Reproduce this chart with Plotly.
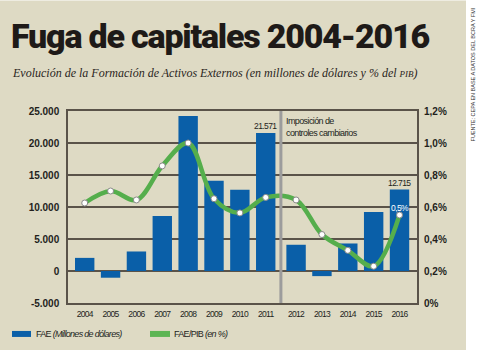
import plotly.graph_objects as go

# ---------------- data ----------------
years = ["2004", "2005", "2006", "2007", "2008", "2009", "2010", "2011",
         "2012", "2013", "2014", "2015", "2016"]
fae_musd = [2050, -1050, 3050, 8600, 24200, 14100, 12700, 21571,
            4100, -800, 4300, 9200, 12715]
fae_pib_pct = [0.625, 0.70, 0.644, 0.857, 1.00, 0.652, 0.563, 0.66,
               0.644, 0.428, 0.329, 0.23, 0.55]

left_tickvals = [-5000, 0, 5000, 10000, 15000, 20000, 25000]
left_ticktext = ["-5.000", "0", "5.000", "10.000", "15.000", "20.000", "25.000"]
right_tickvals = [0, 0.2, 0.4, 0.6, 0.8, 1.0, 1.2]
right_ticktext = ["0%", "0,2%", "0,4%", "0,6%", "0,8%", "1,0%", "1,2%"]

label_2011 = "21.571"
label_2016 = "12.715"
label_2016_pct = "0,5%"

# ---------------- layout helpers ----------------
W, H = 480, 350
L, R, T, B = 68, 63, 110.7, 47
PW, PH = W - L - R, H - T - B
GAP = 0.174  # extra space after 2011 (controls separator)
xpos = [i + (GAP if int(y) >= 2012 else 0) for i, y in enumerate(years)]
sep_x = 7.5 + GAP / 2


def px(xp):
    return (xp - L) / PW


def py(yp):
    return (H - B - yp) / PH


def tight(s, ls):
    """Condense text with negative letter spacing (no narrow fonts available)."""
    return "<span style='letter-spacing:%spx'>%s</span>" % (ls, s)


BG = "#DEDAC4"
BLUE = "#0A5FA8"
GREEN = "#55AE4C"
GRID = "#5A5349"
TXT = "#231F1C"
SANS = "Liberation Sans, Arial, sans-serif"
TITLEF = "Roboto, Liberation Sans, sans-serif"
SERIF = "Liberation Serif, DejaVu Serif, serif"

fig = go.Figure()
fig.add_trace(go.Bar(
    x=xpos, y=fae_musd, marker=dict(color=BLUE, line=dict(width=0)),
    width=0.75, name="FAE (Millones de dólares)", showlegend=False,
    hoverinfo="skip"))
fig.add_trace(go.Scatter(
    x=xpos, y=fae_pib_pct, yaxis="y2", mode="lines+markers",
    line=dict(color=GREEN, width=4.5, shape="spline", smoothing=1),
    marker=dict(color="white", size=6, line=dict(color="#8a8a8a", width=1)),
    name="FAE/PIB (en %)", showlegend=False, hoverinfo="skip"))

shapes = [
    dict(type="rect", xref="paper", yref="paper", x0=px(0), x1=px(466),
         y0=py(H), y1=py(0), fillcolor=BG, line=dict(width=0), layer="below"),
    dict(type="line", xref="x", yref="paper", x0=sep_x, x1=sep_x, y0=0, y1=1,
         line=dict(color="#9C9C9C", width=3), layer="above"),
    dict(type="rect", xref="paper", yref="paper", x0=px(12), x1=px(31),
         y0=py(337), y1=py(331), fillcolor=BLUE, line=dict(width=0)),
    dict(type="rect", xref="paper", yref="paper", x0=px(150), x1=px(170),
         y0=py(337), y1=py(331), fillcolor="#5DB554", line=dict(width=0)),
]

annotations = [
    dict(text=tight("Fuga de capitales 2004-2016", -1.2), xref="paper", yref="paper",
         x=px(9), y=py(36), xanchor="left", yanchor="middle", showarrow=False,
         font=dict(family=TITLEF, size=34, color="#1E1A18", weight=900)),
    dict(text="<i>Evolución de la Formación de Activos Externos (en millones de dólares y % del "
              "<span style='font-size:9px'>PIB</span>)</i>",
         xref="paper", yref="paper", x=px(10), y=py(73), xanchor="left",
         yanchor="middle", showarrow=False,
         font=dict(family=SERIF, size=12, color="#2A2522")),
    dict(text=tight("Imposición de", -0.6) + "<br>" + tight("controles cambiarios", -0.6),
         xref="x", yref="paper",
         x=sep_x, xshift=3, y=py(114), xanchor="left", yanchor="top",
         align="left", showarrow=False,
         font=dict(family=SANS, size=9, color=TXT)),
    dict(text=tight(label_2011, -0.6), x=xpos[7], y=fae_musd[7], yshift=7, showarrow=False,
         xanchor="center", yanchor="middle",
         font=dict(family=SANS, size=8.5, color=TXT)),
    dict(text=tight(label_2016, -0.6), x=xpos[12], y=fae_musd[12], yshift=7, showarrow=False,
         xanchor="center", yanchor="middle",
         font=dict(family=SANS, size=8.5, color=TXT)),
    dict(text=tight(label_2016_pct, -0.6), x=xpos[12], y=fae_pib_pct[12], yref="y2",
         yshift=7, showarrow=False, xanchor="center", yanchor="middle",
         font=dict(family=SANS, size=8.5, color="white")),
    dict(text=tight("FAE <i>(Millones de dólares)</i>", -0.7), xref="paper", yref="paper",
         x=px(34), y=py(334), xanchor="left", yanchor="middle", showarrow=False,
         font=dict(family=SANS, size=9, color=TXT)),
    dict(text=tight("FAE/PIB <i>(en %)</i>", -0.7), xref="paper", yref="paper",
         x=px(172), y=py(334), xanchor="left", yanchor="middle", showarrow=False,
         font=dict(family=SANS, size=9, color=TXT)),
    dict(text="FUENTE: CEPA EN BASE A DATOS DEL BCRA Y FMI", xref="paper",
         yref="paper", x=px(473), y=py(5), textangle=-90, xanchor="center",
         yanchor="top", showarrow=False,
         font=dict(family=SANS, size=5.5, color="#333333")),
]

fig.update_layout(
    width=W, height=H, margin=dict(l=L, r=R, t=T, b=B, pad=0),
    paper_bgcolor="white", plot_bgcolor=BG,
    separators=",.", bargap=0.25,
    shapes=shapes, annotations=annotations,
    xaxis=dict(range=[-0.646, 12.85], tickvals=xpos,
               ticktext=[tight(y, -0.7) for y in years],
               showgrid=False, zeroline=False, showline=True, mirror=True,
               linecolor=GRID, linewidth=1.5, ticks="outside", ticklen=2,
               tickcolor="rgba(0,0,0,0)",
               tickfont=dict(family=SANS, size=8.5, color=TXT)),
    yaxis=dict(range=[-5000, 25000], tickvals=left_tickvals,
               ticktext=left_ticktext, showgrid=True, gridcolor=GRID,
               gridwidth=1.5, zeroline=True, zerolinecolor=GRID,
               zerolinewidth=1.5, showline=True, mirror=True, linecolor=GRID,
               linewidth=1.5, ticks="outside", ticklen=5,
               tickcolor="rgba(0,0,0,0)",
               tickfont=dict(family=SANS, size=10, color=TXT, weight="bold")),
    yaxis2=dict(range=[0, 1.2], overlaying="y", side="right",
                tickvals=right_tickvals, ticktext=right_ticktext,
                showgrid=False, zeroline=False, showline=False,
                ticks="outside", ticklen=4, tickcolor="rgba(0,0,0,0)",
                tickfont=dict(family=SANS, size=10, color=TXT, weight="bold")),
)

fig.write_html("out.html")
